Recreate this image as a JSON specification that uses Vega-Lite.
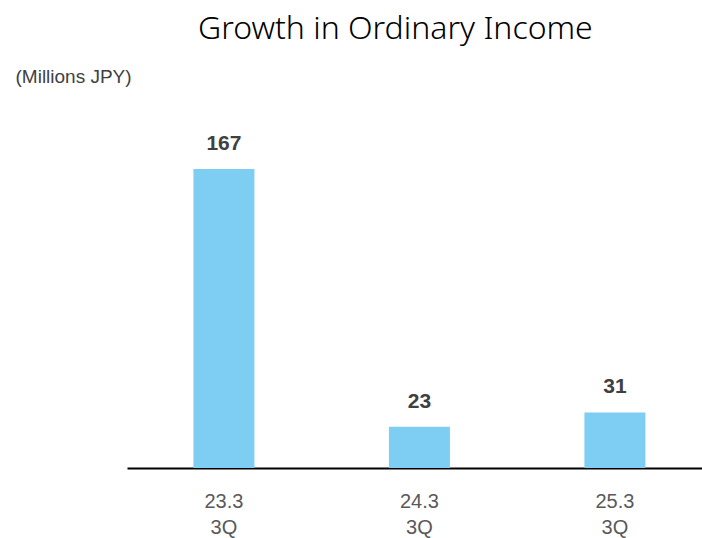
{
  "$schema": "https://vega.github.io/schema/vega-lite/v6.json",
  "width": 575,
  "height": 300,
  "autosize": {"type": "none"},
  "padding": {"left": 127, "top": 168, "right": 0, "bottom": 70},
  "background": "white",
  "title": {
    "text": "Growth in Ordinary Income",
    "anchor": "start",
    "frame": "group",
    "dx": 71,
    "offset": 21,
    "font": "Noto Sans",
    "fontSize": 32,
    "fontWeight": 300,
    "color": "#000000"
  },
  "data": {
    "values": [
      {"period": "23.3 3Q", "income": 167},
      {"period": "24.3 3Q", "income": 23},
      {"period": "25.3 3Q", "income": 31}
    ]
  },
  "encoding": {
    "x": {
      "field": "period",
      "type": "nominal",
      "sort": null,
      "scale": {"paddingInner": 0.688, "paddingOuter": 0.3146, "align": 0.54},
      "axis": {
        "title": null,
        "labelAngle": 0,
        "labelExpr": "split(datum.label, ' ')",
        "labelFont": "Liberation Sans",
        "labelFontSize": 20,
        "labelColor": "#595959",
        "labelLineHeight": 26,
        "labelPadding": 23,
        "ticks": false,
        "domainColor": "#000000",
        "domainWidth": 2,
        "grid": false
      }
    },
    "y": {
      "field": "income",
      "type": "quantitative",
      "scale": {"domain": [0, 167.5], "nice": false},
      "axis": {
        "domain": false,
        "ticks": false,
        "labels": false,
        "grid": false,
        "title": "(Millions JPY)",
        "titleAngle": 0,
        "titleAlign": "left",
        "titleBaseline": "alphabetic",
        "titleX": -112,
        "titleY": -86,
        "titleFont": "Liberation Sans",
        "titleFontSize": 19,
        "titleFontWeight": "normal",
        "titleColor": "#404040"
      }
    }
  },
  "layer": [
    {"mark": {"type": "bar", "color": "#7ECEF4"}},
    {
      "mark": {
        "type": "text",
        "dy": -19,
        "baseline": "alphabetic",
        "font": "Liberation Sans",
        "fontSize": 21,
        "fontWeight": "bold",
        "color": "#404040"
      },
      "encoding": {"text": {"field": "income", "type": "quantitative"}}
    }
  ],
  "config": {"view": {"stroke": null}}
}
